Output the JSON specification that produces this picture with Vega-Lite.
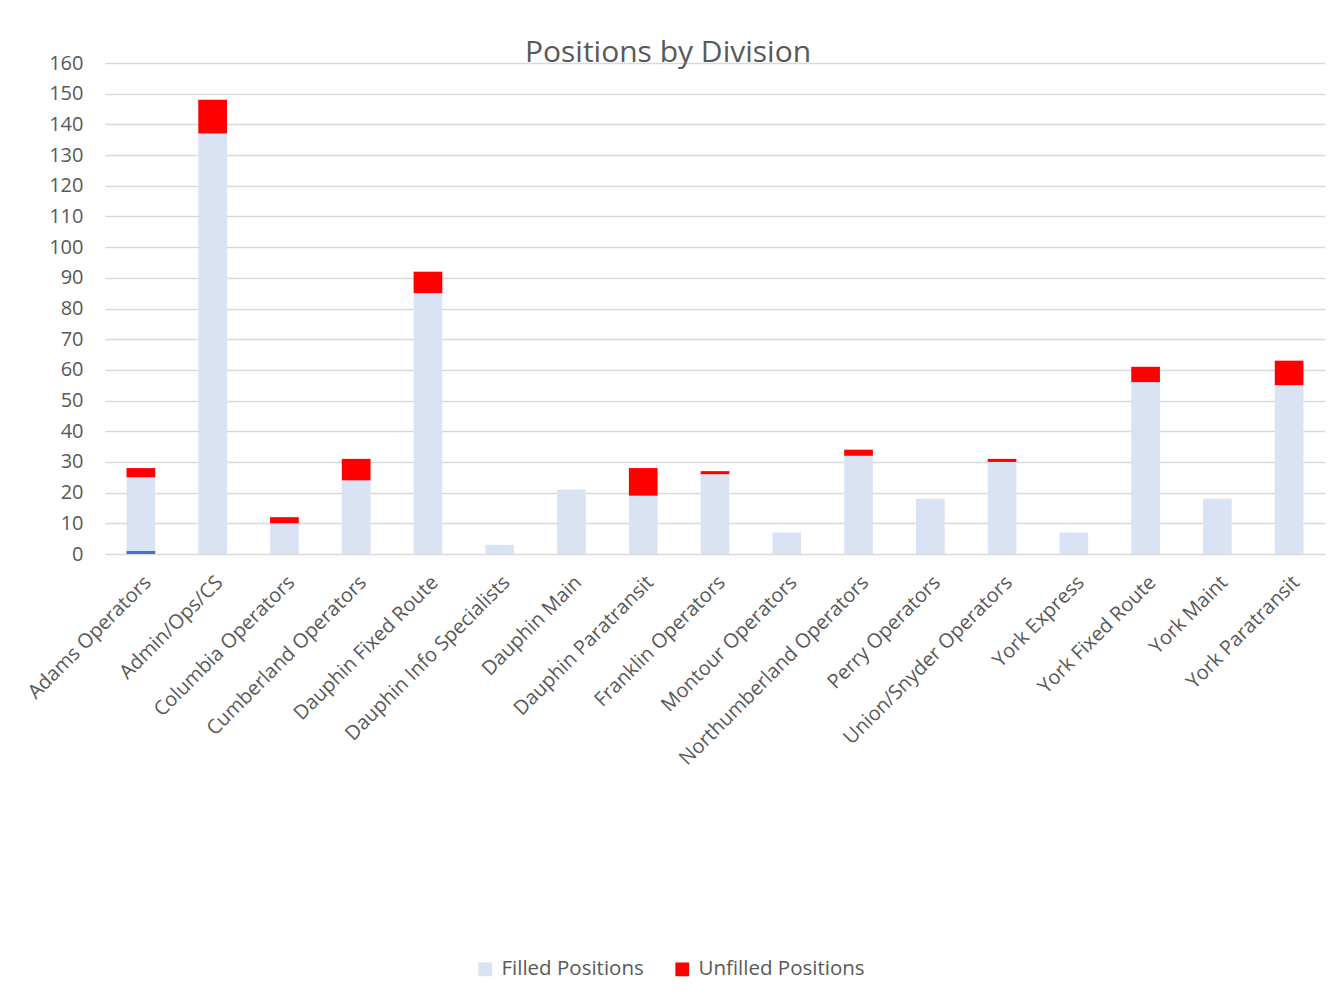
{
  "$schema": "https://vega.github.io/schema/vega-lite/v6.json",
  "width": 1220,
  "height": 491,
  "autosize": {"type": "none"},
  "padding": {"left": 105, "top": 63, "right": 11, "bottom": 450},
  "background": "white",
  "title": {
    "text": "Positions by Division",
    "font": "Open Sans",
    "fontSize": 30,
    "fontWeight": "normal",
    "color": "#595959",
    "anchor": "middle",
    "offset": -15,
    "dx": -47
  },
  "data": {
    "values": [
      {"division": "Adams Operators", "series": "Other", "ord": 0, "value": 1},
      {"division": "Adams Operators", "series": "Filled Positions", "ord": 1, "value": 24},
      {"division": "Adams Operators", "series": "Unfilled Positions", "ord": 2, "value": 3},
      {"division": "Admin/Ops/CS", "series": "Filled Positions", "ord": 1, "value": 137},
      {"division": "Admin/Ops/CS", "series": "Unfilled Positions", "ord": 2, "value": 11},
      {"division": "Columbia Operators", "series": "Filled Positions", "ord": 1, "value": 10},
      {"division": "Columbia Operators", "series": "Unfilled Positions", "ord": 2, "value": 2},
      {"division": "Cumberland Operators", "series": "Filled Positions", "ord": 1, "value": 24},
      {"division": "Cumberland Operators", "series": "Unfilled Positions", "ord": 2, "value": 7},
      {"division": "Dauphin Fixed Route", "series": "Filled Positions", "ord": 1, "value": 85},
      {"division": "Dauphin Fixed Route", "series": "Unfilled Positions", "ord": 2, "value": 7},
      {"division": "Dauphin Info Specialists", "series": "Filled Positions", "ord": 1, "value": 3},
      {"division": "Dauphin Info Specialists", "series": "Unfilled Positions", "ord": 2, "value": 0},
      {"division": "Dauphin Main", "series": "Filled Positions", "ord": 1, "value": 21},
      {"division": "Dauphin Main", "series": "Unfilled Positions", "ord": 2, "value": 0},
      {"division": "Dauphin Paratransit", "series": "Filled Positions", "ord": 1, "value": 19},
      {"division": "Dauphin Paratransit", "series": "Unfilled Positions", "ord": 2, "value": 9},
      {"division": "Franklin Operators", "series": "Filled Positions", "ord": 1, "value": 26},
      {"division": "Franklin Operators", "series": "Unfilled Positions", "ord": 2, "value": 1},
      {"division": "Montour Operators", "series": "Filled Positions", "ord": 1, "value": 7},
      {"division": "Montour Operators", "series": "Unfilled Positions", "ord": 2, "value": 0},
      {"division": "Northumberland Operators", "series": "Filled Positions", "ord": 1, "value": 32},
      {"division": "Northumberland Operators", "series": "Unfilled Positions", "ord": 2, "value": 2},
      {"division": "Perry Operators", "series": "Filled Positions", "ord": 1, "value": 18},
      {"division": "Perry Operators", "series": "Unfilled Positions", "ord": 2, "value": 0},
      {"division": "Union/Snyder Operators", "series": "Filled Positions", "ord": 1, "value": 30},
      {"division": "Union/Snyder Operators", "series": "Unfilled Positions", "ord": 2, "value": 1},
      {"division": "York Express", "series": "Filled Positions", "ord": 1, "value": 7},
      {"division": "York Express", "series": "Unfilled Positions", "ord": 2, "value": 0},
      {"division": "York Fixed Route", "series": "Filled Positions", "ord": 1, "value": 56},
      {"division": "York Fixed Route", "series": "Unfilled Positions", "ord": 2, "value": 5},
      {"division": "York Maint", "series": "Filled Positions", "ord": 1, "value": 18},
      {"division": "York Maint", "series": "Unfilled Positions", "ord": 2, "value": 0},
      {"division": "York Paratransit", "series": "Filled Positions", "ord": 1, "value": 55},
      {"division": "York Paratransit", "series": "Unfilled Positions", "ord": 2, "value": 8}
    ]
  },
  "mark": {"type": "bar"},
  "encoding": {
    "x": {
      "field": "division",
      "type": "nominal",
      "sort": null,
      "title": null,
      "scale": {"paddingInner": 0.6, "paddingOuter": 0.3},
      "axis": {
        "labelAngle": -45,
        "labelFont": "Open Sans",
        "labelFontSize": 20,
        "labelColor": "#595959",
        "labelPadding": 18,
        "ticks": false,
        "domain": false,
        "grid": false,
        "labelLimit": 400
      }
    },
    "y": {
      "field": "value",
      "type": "quantitative",
      "stack": "zero",
      "title": null,
      "scale": {"domain": [0, 160], "nice": false},
      "axis": {
        "values": [0, 10, 20, 30, 40, 50, 60, 70, 80, 90, 100, 110, 120, 130, 140, 150, 160],
        "labelFont": "Open Sans",
        "labelFontSize": 20,
        "labelColor": "#595959",
        "labelPadding": 22,
        "ticks": false,
        "domain": false,
        "gridColor": "#d9d9d9",
        "gridWidth": 1.5
      }
    },
    "order": {"field": "ord", "type": "quantitative"},
    "color": {
      "field": "series",
      "type": "nominal",
      "scale": {
        "domain": ["Other", "Filled Positions", "Unfilled Positions"],
        "range": ["#4472C4", "#DAE3F3", "#FF0000"]
      },
      "legend": {
        "values": ["Filled Positions", "Unfilled Positions"],
        "title": null,
        "orient": "none",
        "direction": "horizontal",
        "legendX": 370,
        "legendY": 896,
        "symbolType": "square",
        "symbolSize": 190,
        "symbolStrokeWidth": 0,
        "labelFont": "Open Sans",
        "labelFontSize": 20.5,
        "labelColor": "#595959",
        "labelLimit": 400,
        "columnPadding": 28,
        "labelOffset": 6
      }
    }
  },
  "config": {
    "view": {"stroke": null},
    "axis": {"gridColor": "#d9d9d9"}
  }
}
